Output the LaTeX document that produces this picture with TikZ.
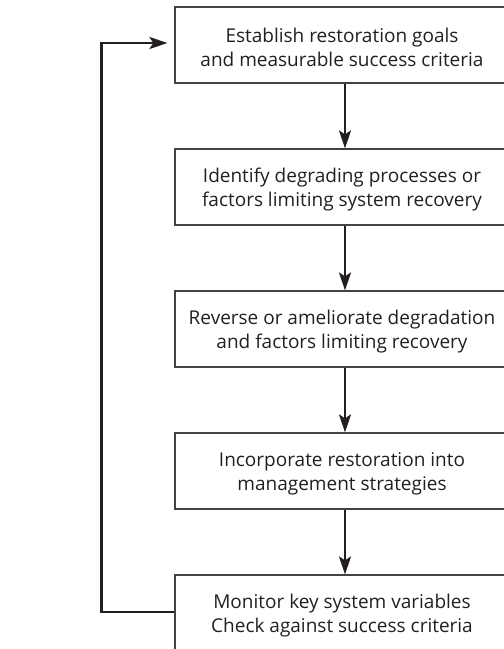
\documentclass[tikz,border=0pt]{standalone}
\usepackage{fontspec}
\setmainfont{Open Sans}
\usetikzlibrary{arrows.meta}
\definecolor{ink}{HTML}{231F20}
% extra room above the first line pushes the two-line label a little lower
\newcommand\capgap{\rule{0pt}{19.5pt}}
\tikzset{
  stepbox/.style={draw=ink!85, line width=1.2pt, minimum width=334pt, minimum height=76pt,
    inner sep=0pt, align=center, text=ink, font=\fontsize{19}{24.5}\selectfont},
  flow/.style={draw=ink, line width=2.6pt, -{Stealth[length=18pt,width=12pt,inset=4pt]}},
}
\begin{document}
\begin{tikzpicture}[x=1pt,y=-1pt]
  \useasboundingbox (0,0) rectangle (504,649);
  \clip (0,0) rectangle (504,649);
  \node[stepbox] (b1) at (342,45) {\capgap Establish restoration goals\\and measurable success criteria};
  \node[stepbox] (b2) at (342,187) {\capgap Identify degrading processes or\\factors limiting system recovery};
  \node[stepbox] (b3) at (342,329) {\capgap Reverse or ameliorate degradation\\and factors limiting recovery};
  \node[stepbox] (b4) at (342,471) {\capgap Incorporate restoration into\\management strategies};
  \node[stepbox] (b5) at (342,613) {\capgap Monitor key system variables\\Check against success criteria};
  \draw[flow] ([xshift=3pt]b1.south) -- ([xshift=3pt]b2.north);
  \draw[flow] ([xshift=3pt]b2.south) -- ([xshift=3pt]b3.north);
  \draw[flow] ([xshift=3pt]b3.south) -- ([xshift=3pt]b4.north);
  \draw[flow] ([xshift=3pt]b4.south) -- ([xshift=3pt]b5.north);
  \draw[flow] ([yshift=1pt]b5.west) -- ++(-73,0) |- ([yshift=2pt,xshift=-7pt]b1.west);
\end{tikzpicture}
\end{document}
